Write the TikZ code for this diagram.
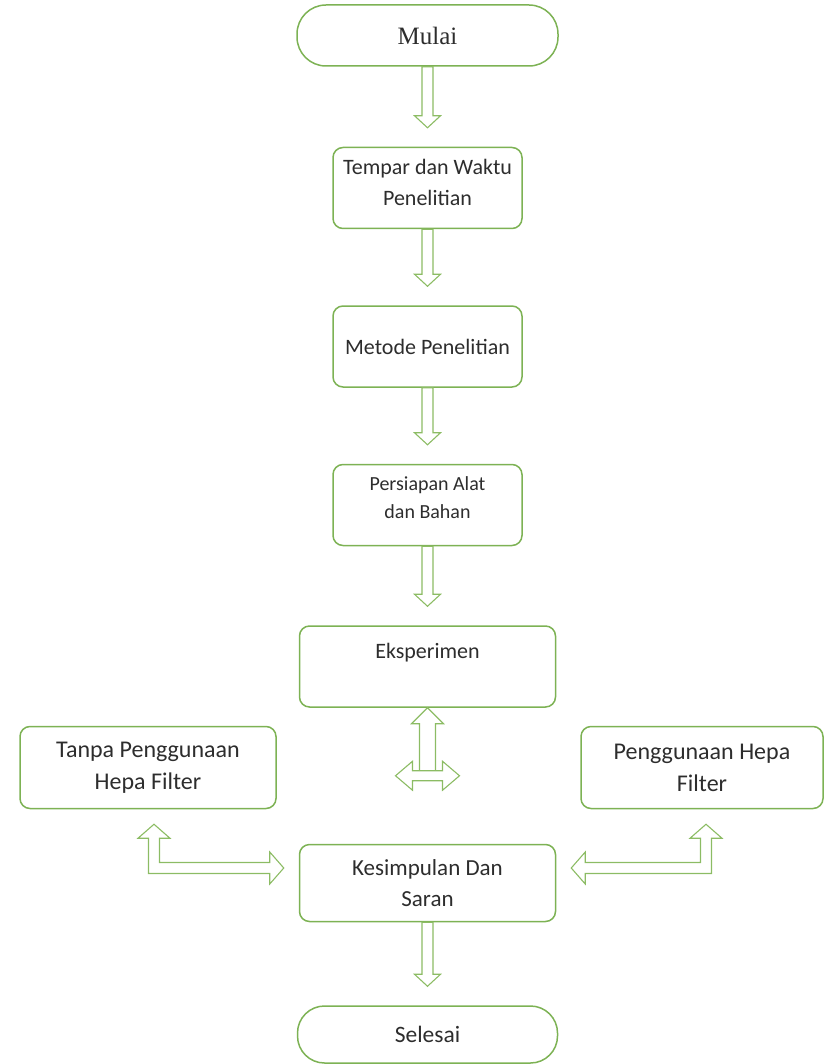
\documentclass[tikz,border=0pt]{standalone}
\usepackage{fontspec}
\setmainfont{Carlito}
\newfontfamily\timesfont{Liberation Serif}
\usetikzlibrary{positioning,calc}

\definecolor{hijaukotak}{RGB}{125,178,84}
\definecolor{hijaupanah}{RGB}{140,188,100}
\definecolor{teks}{RGB}{45,45,45}

\begin{document}
\begin{tikzpicture}[
	terminal/.style={rectangle, draw=hijaukotak, line width=1.5pt, rounded corners=29pt, minimum width=261pt, minimum height=61pt, align=center, text=teks},
	proses/.style={rectangle, draw=hijaukotak, line width=1.5pt, rounded corners=10pt, minimum width=189pt, minimum height=81pt, align=center, text=teks, font=\fontsize{22}{31}\selectfont},
	lebar/.style={minimum width=256pt},
	samping/.style={font=\fontsize{24}{32}\selectfont, minimum height=82pt},
	shaft half/.store in=\shaftw, head half/.store in=\headw, head length/.store in=\headlen, tip gap/.store in=\tipgap,
	shaft half=5.5pt, head half=13pt, head length=12pt, tip gap=19pt,
	panah/.style={draw=hijaupanah, line width=1.1pt, line join=miter, to path={
		let \p1=(\tikztostart), \p2=(\tikztotarget),
		\n1={veclen(\x2-\x1,\y2-\y1)}, \n2={(\x2-\x1)/\n1}, \n3={(\y2-\y1)/\n1}
		in ({\x1-\n3*\shaftw}, {\y1+\n2*\shaftw})
		-- ({\x2-\n2*(\tipgap+\headlen)-\n3*\shaftw}, {\y2-\n3*(\tipgap+\headlen)+\n2*\shaftw})
		-- ({\x2-\n2*(\tipgap+\headlen)-\n3*\headw}, {\y2-\n3*(\tipgap+\headlen)+\n2*\headw})
		-- ({\x2-\n2*\tipgap}, {\y2-\n3*\tipgap})
		-- ({\x2-\n2*(\tipgap+\headlen)+\n3*\headw}, {\y2-\n3*(\tipgap+\headlen)-\n2*\headw})
		-- ({\x2-\n2*(\tipgap+\headlen)+\n3*\shaftw}, {\y2-\n3*(\tipgap+\headlen)-\n2*\shaftw})
		-- ({\x1+\n3*\shaftw}, {\y1-\n2*\shaftw}) -- cycle}},
	panahganda/.style={draw=hijaupanah, line width=1.1pt, line join=miter, fill=white, to path={
		let \p1=(\tikztostart), \p2=(\tikztotarget),
		\n1={veclen(\x2-\x1,\y2-\y1)}, \n2={(\x2-\x1)/\n1}, \n3={(\y2-\y1)/\n1}
		in (\x1, \y1)
		-- ({\x1+\n2*\headlen-\n3*\headw}, {\y1+\n3*\headlen+\n2*\headw})
		-- ({\x1+\n2*\headlen-\n3*\shaftw}, {\y1+\n3*\headlen+\n2*\shaftw})
		-- ({\x2-\n2*\headlen-\n3*\shaftw}, {\y2-\n3*\headlen+\n2*\shaftw})
		-- ({\x2-\n2*\headlen-\n3*\headw}, {\y2-\n3*\headlen+\n2*\headw})
		-- (\x2, \y2)
		-- ({\x2-\n2*\headlen+\n3*\headw}, {\y2-\n3*\headlen-\n2*\headw})
		-- ({\x2-\n2*\headlen+\n3*\shaftw}, {\y2-\n3*\headlen-\n2*\shaftw})
		-- ({\x1+\n2*\headlen+\n3*\shaftw}, {\y1+\n3*\headlen-\n2*\shaftw})
		-- ({\x1+\n2*\headlen+\n3*\headw}, {\y1+\n3*\headlen-\n2*\headw}) -- cycle}},
	panahsiku/.style={draw=hijaupanah, line width=1.1pt, line join=miter, to path={
		let \p1=(\tikztostart), \p2=(\tikztotarget), \n1={ifthenelse(\x2>\x1,1,-1)}
		in ({\x1-\n1*\shaftw}, {\y1-\tipgap-\headlen})
		-- ({\x1-\n1*\headw}, {\y1-\tipgap-\headlen})
		-- (\x1, {\y1-\tipgap})
		-- ({\x1+\n1*\headw}, {\y1-\tipgap-\headlen})
		-- ({\x1+\n1*\shaftw}, {\y1-\tipgap-\headlen})
		-- ({\x1+\n1*\shaftw}, {\y2+\shaftw})
		-- ({\x2-\n1*(\tipgap+\headlen)}, {\y2+\shaftw})
		-- ({\x2-\n1*(\tipgap+\headlen)}, {\y2+\headw})
		-- ({\x2-\n1*\tipgap}, \y2)
		-- ({\x2-\n1*(\tipgap+\headlen)}, {\y2-\headw})
		-- ({\x2-\n1*(\tipgap+\headlen)}, {\y2-\shaftw})
		-- ({\x1-\n1*\shaftw}, {\y2-\shaftw}) -- cycle}}
	]
	\useasboundingbox (0,0) rectangle (825pt,-1064pt);

	% Alur utama dari atas ke bawah
	\node[terminal, font=\timesfont\fontsize{25}{30}\selectfont] (mulai) at (427.5pt,-35.5pt) {Mulai};
	\node[proses, below=80pt of mulai] (tempat) {Tempar dan Waktu\\Penelitian\\[-19pt]~};
	\node[proses, below=76pt of tempat] (metode) {Metode Penelitian};
	\node[proses, below=76pt of metode, font=\fontsize{20}{28}\selectfont] (persiapan) {Persiapan Alat\\dan Bahan\\[-14pt]~};
	\node[proses, lebar, below=79pt of persiapan] (eksperimen) {Eksperimen\\~};
	\node[proses, lebar, minimum height=77pt, font=\fontsize{23}{31}\selectfont, below=136pt of eksperimen] (kesimpulan) {Kesimpulan Dan\\Saran};
	\node[terminal, minimum width=260pt, minimum height=57pt, rounded corners=27pt, font=\fontsize{23.5}{30}\selectfont, below=83pt of kesimpulan] (selesai) {Selesai};

	% Dua perlakuan di samping
	\node[proses, lebar, samping, below left=18pt and 22pt of eksperimen.south west] (tanpa) {Tanpa Penggunaan\\Hepa Filter};
	\node[proses, samping, minimum width=242pt, below right=18pt and 24pt of eksperimen.south east] (hepa) {Penggunaan Hepa\\Filter};

	% Panah lurus
	\draw[panah] (mulai.south) to (tempat.north);
	\draw[panah] (tempat.south) to (metode.north);
	\draw[panah] (metode.south) to (persiapan.north);
	\draw[panah] (persiapan.south) to (eksperimen.north);
	\draw[panah] (kesimpulan.south) to (selesai.north);

	% Panah di bawah eksperimen
	\coordinate[below=68pt of eksperimen.south] (pusat);
	\coordinate[left=32pt of pusat] (pusatkiri);
	\coordinate[right=32pt of pusat] (pusatkanan);
	\draw[panah, shaft half=8pt, head half=16pt, head length=16pt, tip gap=0pt] (pusat) to (eksperimen.south);
	\draw[panahganda, shaft half=5pt, head half=14.5pt, head length=17pt] (pusatkiri) to (pusatkanan);

	% Panah siku ke kesimpulan
	\draw[panahsiku, head half=16pt, head length=14pt, tip gap=15pt] ([xshift=6pt]tanpa.south) to ([yshift=15pt]kesimpulan.west);
	\draw[panahsiku, head half=16pt, head length=14pt, tip gap=15pt] ([xshift=4pt]hepa.south) to ([yshift=15pt]kesimpulan.east);
\end{tikzpicture}
\end{document}
